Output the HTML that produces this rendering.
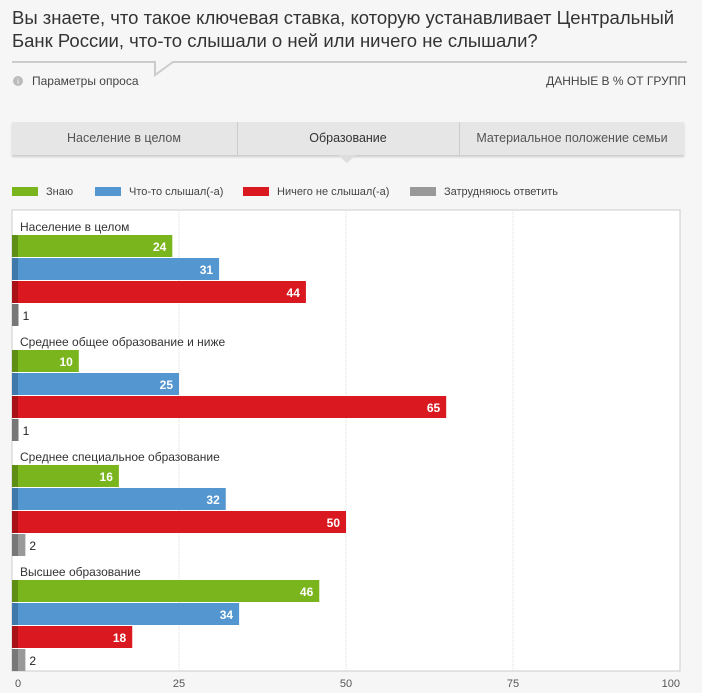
<!DOCTYPE html>
<html><head><meta charset="utf-8">
<style>
body{margin:0;width:702px;height:693px;background:#f6f6f6;font-family:"Liberation Sans",sans-serif;overflow:hidden;position:relative}
.t{position:absolute;left:12px;top:6px;font-size:18.5px;line-height:23px;color:#333;white-space:nowrap}
.ab{position:absolute}
.tab{position:absolute;top:122px;height:33px;line-height:33px;text-align:center;font-size:12.5px;color:#555;background:#e6e6e6}
.leg{position:absolute;top:185px;font-size:11px;color:#444;line-height:14px}
.sw{display:inline-block;width:26px;height:9px;margin-right:8px;vertical-align:-1px}
</style></head><body>
<div class="t">Вы знаете, что такое ключевая ставка, которую устанавливает Центральный<br>Банк России, что-то слышали о ней или ничего не слышали?</div>
<svg class="ab" style="left:0;top:0" width="702" height="120">
<polyline points="12,62 155,62 155,75 173,62 687,62" fill="none" stroke="#ccc" stroke-width="2"/>
<circle cx="18" cy="81" r="5" fill="#bbb"/><text x="18" y="84" font-size="8" fill="#fff" text-anchor="middle" font-family="Liberation Sans">i</text>
</svg>
<div class="ab" style="left:32px;top:74px;font-size:12px;color:#444">Параметры опроса</div>
<div class="ab" style="right:16px;top:74px;font-size:12px;color:#444">ДАННЫЕ В % ОТ ГРУПП</div>
<div class="ab" style="left:12px;top:122px;width:672px;height:33px;background:#e6e6e6;box-shadow:0 2px 2px #ccc"></div>
<div class="tab" style="left:12px;width:224px">Население в целом</div>
<div class="tab" style="left:237px;width:222px;color:#333">Образование</div>
<div class="tab" style="left:460px;width:224px">Материальное положение семьи</div>
<div class="ab" style="left:237px;top:122px;width:1px;height:33px;background:#ccc"></div>
<div class="ab" style="left:459px;top:122px;width:1px;height:33px;background:#ccc"></div>
<svg class="ab" style="left:338px;top:155px" width="18" height="9"><polygon points="0,0 18,0 9,8" fill="#ddd"/></svg>
<div class="leg" style="left:12px"><span class="sw" style="background:#7ab51d"></span>Знаю</div>
<div class="leg" style="left:95px"><span class="sw" style="background:#5496cf"></span>Что-то слышал(-а)</div>
<div class="leg" style="left:243px"><span class="sw" style="background:#d9191f"></span>Ничего не слышал(-а)</div>
<div class="leg" style="left:410px"><span class="sw" style="background:#999"></span>Затрудняюсь ответить</div>
<svg class="ab" style="left:0;top:0" width="702" height="693" id="ch"></svg>
<script>
const categories=["Население в целом","Среднее общее образование и ниже","Среднее специальное образование","Высшее образование"];
const know=[24,10,16,46];
const heard=[31,25,32,34];
const notHeard=[44,65,50,18];
const hard=[1,1,2,2];
const ticks=[0,25,50,75,100];
const colors=["#7ab51d","#5496cf","#d9191f","#999"];
const dark=["#5e8f14","#3f78ab","#a81217","#777"];
const names=["know","heard","not-heard","hard"];
const NS="http://www.w3.org/2000/svg",svg=document.getElementById('ch');
const x0=12,x1=680,plotTop=210,plotBot=671;
const X=v=>x0+(x1-x0)*v/100;
function mk(t,a,p){const e=document.createElementNS(NS,t);for(const k in a)e.setAttribute(k,a[k]);(p||svg).appendChild(e);return e;}
const bg=mk('rect',{x:x0,y:plotTop,width:x1-x0,height:plotBot-plotTop,fill:'#fff',stroke:'#ccc'});


ticks.forEach(t=>{
 if(t>0&&t<100){const g=mk('line',{x1:X(t),x2:X(t),y1:plotTop,y2:plotBot,stroke:'#ddd','stroke-dasharray':'1,1'});
 
 }
 const tx=mk('text',{x:t==0?X(t)+6:X(t),y:plotBot+16,'font-size':11,fill:'#555','text-anchor':t==100?'end':'middle','font-family':'Liberation Sans'});
 
 
 tx.textContent=t;
});
const series=[know,heard,notHeard,hard];
categories.forEach((c,i)=>{
 const gy=plotTop+12+i*115;
 const l=mk('text',{x:20,y:gy+9,'font-size':12,fill:'#333','font-family':'Liberation Sans'});
 
 
 l.textContent=c;
 series.forEach((s,j)=>{
  const y=gy+13+j*23,w=X(s[i])-x0;
  const r=mk('rect',{x:x0,y:y,width:w,height:22,fill:colors[j]});
  
  
  mk('rect',{x:x0,y:y,width:Math.min(6,w),height:22,fill:dark[j]});
  const inside=s[i]>=5;
  const v=mk('text',{x:inside?X(s[i])-6:X(s[i])+4,y:y+16,'font-size':12,'font-weight':inside?'bold':'normal',fill:inside?'#fff':'#222','text-anchor':inside?'end':'start','font-family':'Liberation Sans'});
  
  
  v.textContent=s[i];
 });
});
</script>
</body></html>
